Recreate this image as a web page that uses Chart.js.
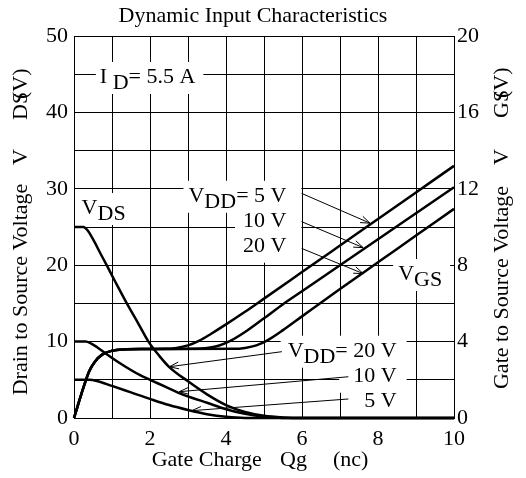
<!DOCTYPE html>
<html>
<head>
<meta charset="utf-8">
<script src="https://cdn.jsdelivr.net/npm/chart.js@4.4.0/dist/chart.umd.min.js"></script>
<style>
  body { margin: 0; background: #fff; }
  canvas { display: block; }
</style>
</head>
<body>
<canvas id="dynamic-input" width="526" height="478"></canvas>
<script>
// gate charge (nC) and drain-source voltage (V) for each VDD
let qVds20 = [0, 0.25, 0.35, 0.5, 0.7, 0.86, 1.1, 1.39, 1.7, 1.96, 2.25, 2.5, 3, 3.5, 4, 4.5, 5, 5.5, 6, 10];
let vds20 = [25, 25, 24.6, 23.4, 21.5, 20, 17.7, 15, 12.3, 10, 8.1, 6.7, 4.8, 3.1, 1.7, 0.8, 0.3, 0.08, 0, 0];
let qVds10 = [0, 0.3, 0.45, 0.6, 0.82, 1.2, 1.74, 2, 2.4, 2.75, 3.1, 3.5, 4, 4.5, 5, 5.5, 10];
let vds10 = [10, 10, 9.75, 9.3, 8.5, 7.2, 5.6, 5.0, 4.1, 3.3, 2.65, 2.0, 1.15, 0.55, 0.15, 0, 0];
let qVds5 = [0, 0.4, 0.6, 1, 1.5, 2, 2.5, 3, 3.5, 4, 4.5, 10];
let vds5 = [5, 5, 4.85, 4.2, 3.35, 2.5, 1.7, 1.05, 0.5, 0.15, 0, 0];

// gate-source voltage (V), right axis
let qVgs5 = [0, 0.1, 0.25, 0.4, 0.55, 0.75, 1, 1.3, 1.8, 2.4, 2.7, 3, 3.3, 3.6, 4, 4.5, 5, 6, 7, 8, 9, 10];
let vgs5 = [0, 0.65, 1.6, 2.45, 2.95, 3.33, 3.52, 3.59, 3.61, 3.62, 3.67, 3.8, 4.05, 4.4, 4.9, 5.56, 6.25, 7.64, 9.03, 10.42, 11.81, 13.2];
let qVgs10 = [0, 0.1, 0.25, 0.4, 0.55, 0.75, 1, 1.3, 1.8, 3.2, 3.5, 3.8, 4.1, 4.5, 5, 5.5, 6, 7, 8, 9, 10];
let vgs10 = [0, 0.65, 1.6, 2.45, 2.95, 3.33, 3.52, 3.59, 3.61, 3.62, 3.66, 3.78, 4.02, 4.5, 5.22, 5.96, 6.64, 8.0, 9.36, 10.72, 12.08];
let qVgs20 = [0, 0.1, 0.25, 0.4, 0.55, 0.75, 1, 1.3, 1.8, 4.2, 4.5, 4.8, 5.1, 5.5, 6, 7, 8, 9, 10];
let vgs20 = [0, 0.65, 1.6, 2.45, 2.95, 3.33, 3.52, 3.59, 3.61, 3.62, 3.67, 3.8, 4.08, 4.6, 5.32, 6.75, 8.15, 9.55, 10.95];

let xTicks = [0, 2, 4, 6, 8, 10];
let vdsTicks = [0, 10, 20, 30, 40, 50];
let vgsTicks = [0, 4, 8, 12, 16, 20];

// annotation text, placed in chart units (x: nC, y: left axis V)
let notes = [
  { x: 0.68, y: 43.85, align: 'left', pad: [4, 8], parts: [['I '], ['D', 1], ['= 5.5 A']] },
  { x: 0.2, y: 26.7, align: 'left', pad: [3, 3], parts: [['V'], ['DS', 1]] },
  { x: 5.59, y: 28.3, align: 'right', pad: [5, 15], parts: [['V'], ['DD', 1], ['= 5 V']] },
  { x: 5.59, y: 25.04, align: 'right', pad: [8, 15], parts: [['10 V']] },
  { x: 5.59, y: 21.77, align: 'right', pad: [8, 15], parts: [['20 V']] },
  { x: 8.53, y: 18.06, align: 'left', pad: [5, 8], parts: [['V'], ['GS', 1]] },
  { x: 8.49, y: 8.02, align: 'right', pad: [7, 10], parts: [['V'], ['DD', 1], ['= 20 V']] },
  { x: 8.49, y: 4.75, align: 'right', pad: [14, 10], parts: [['10 V']] },
  { x: 8.49, y: 1.48, align: 'right', pad: [8, 10], parts: [['5 V']] }
];
let arrows = [
  [5.99, 29.4, 7.79, 25.5],
  [5.99, 25.7, 7.61, 22.3],
  [5.99, 22.2, 7.61, 18.9],
  [5.47, 8.68, 2.51, 6.71],
  [7.22, 5.4, 2.77, 3.44],
  [7.22, 2.49, 3.1, 0.96]
];

let serif = "'Liberation Serif', 'Times New Roman', serif";
let font = '22px ' + serif;

let pts = (q, v) => q.map((x, i) => ({ x: x, y: v[i] }));
let curve = (q, v, axis) => ({
  data: pts(q, v),
  yAxisID: axis,
  borderColor: '#000',
  borderWidth: 2.5,
  pointRadius: 0,
  fill: false,
  cubicInterpolationMode: 'monotone',
  clip: 4
});

let rotText = (ctx, text, x, y, align) => {
  ctx.save();
  ctx.translate(x, y);
  ctx.rotate(-Math.PI / 2);
  ctx.textAlign = align;
  ctx.fillText(text, 0, 0);
  ctx.restore();
};

let textPlugin = {
  id: 'textPlugin',
  beforeDatasetsDraw: chart => {
    let ctx = chart.ctx;
    let sx = chart.scales.x, sy = chart.scales.y;
    ctx.save();
    ctx.font = font;
    ctx.textBaseline = 'alphabetic';
    ctx.textAlign = 'left';
    let placed = notes.map(n => {
      let w = n.parts.reduce((s, p) => s + ctx.measureText(p[0]).width, 0);
      let px = sx.getPixelForValue(n.x);
      let py = sy.getPixelForValue(n.y);
      let left = n.align === 'right' ? px - w : px;
      return { n: n, w: w, left: left, py: py };
    });
    ctx.fillStyle = '#fff';
    placed.forEach(p => ctx.fillRect(p.left - p.n.pad[0], p.py - 21, p.w + p.n.pad[0] + p.n.pad[1], 32));
    ctx.fillStyle = '#000';
    placed.forEach(p => {
      let cx = p.left;
      p.n.parts.forEach(part => {
        ctx.fillText(part[0], cx, p.py + (part[1] ? 6 : 0));
        cx += ctx.measureText(part[0]).width;
      });
    });

    ctx.strokeStyle = '#000';
    ctx.lineWidth = 1;
    arrows.forEach(a => {
      let x1 = sx.getPixelForValue(a[0]), y1 = sy.getPixelForValue(a[1]);
      let x2 = sx.getPixelForValue(a[2]), y2 = sy.getPixelForValue(a[3]);
      let ang = Math.atan2(y2 - y1, x2 - x1);
      ctx.beginPath();
      ctx.moveTo(x1, y1);
      ctx.lineTo(x2, y2);
      ctx.moveTo(x2 - 10 * Math.cos(ang - 0.35), y2 - 10 * Math.sin(ang - 0.35));
      ctx.lineTo(x2, y2);
      ctx.lineTo(x2 - 10 * Math.cos(ang + 0.35), y2 - 10 * Math.sin(ang + 0.35));
      ctx.stroke();
    });
    ctx.restore();
  },
  afterDraw: chart => {
    let ctx = chart.ctx;
    let area = chart.chartArea;
    ctx.save();
    ctx.font = font;
    ctx.fillStyle = '#000';
    ctx.textBaseline = 'alphabetic';
    ctx.textAlign = 'center';
    ctx.fillText('Dynamic Input Characteristics', 253, 21.5);

    ctx.textAlign = 'left';
    ctx.fillText('Gate Charge', 151.7, area.bottom + 47.5);
    ctx.fillText('Qg', 280, area.bottom + 47.5);
    ctx.fillText('(nc)', 333, area.bottom + 47.5);

    rotText(ctx, 'Drain to Source Voltage', 26.7, 289.5, 'center');
    rotText(ctx, 'V', 26.7, 157, 'center');
    rotText(ctx, 'DS', 26.7, 120, 'left');
    rotText(ctx, '(V)', 26.7, 99, 'left');

    rotText(ctx, 'Gate to Source Voltage', 508, 287.5, 'center');
    rotText(ctx, 'V', 508, 157, 'center');
    rotText(ctx, 'GS', 508, 118, 'left');
    rotText(ctx, '(V)', 508, 98, 'left');
    ctx.restore();
  }
};

Chart.defaults.font.family = serif;
Chart.defaults.font.size = 22;
Chart.defaults.color = '#000';

let ctx = document.getElementById('dynamic-input').getContext('2d');
let chart = new Chart(ctx, {
  type: 'line',
  data: {
    datasets: [
      curve(qVds20, vds20, 'y'),
      curve(qVds10, vds10, 'y'),
      curve(qVds5, vds5, 'y'),
      curve(qVgs5, vgs5, 'y2'),
      curve(qVgs10, vgs10, 'y2'),
      curve(qVgs20, vgs20, 'y2')
    ]
  },
  options: {
    responsive: false,
    animation: false,
    layout: { padding: { top: 36, left: 0, right: 0, bottom: 0 } },
    plugins: {
      legend: { display: false },
      tooltip: { enabled: false },
      title: { display: false }
    },
    scales: {
      x: {
        type: 'linear',
        min: 0,
        max: 10,
        afterFit: s => { s.height = 60; },
        grid: { color: '#000', lineWidth: 1, drawTicks: false },
        border: { color: '#000', width: 1 },
        ticks: {
          stepSize: 1,
          padding: 8,
          maxRotation: 0,
          autoSkip: false,
          callback: v => xTicks.includes(v) ? String(v) : ''
        }
      },
      y: {
        position: 'left',
        min: 0,
        max: 50,
        afterFit: s => { s.width = 74; },
        grid: { color: '#000', lineWidth: 1, drawTicks: false },
        border: { color: '#000', width: 1 },
        ticks: {
          stepSize: 5,
          padding: 6,
          autoSkip: false,
          callback: v => vdsTicks.includes(v) ? String(v) : ''
        }
      },
      y2: {
        position: 'right',
        min: 0,
        max: 20,
        afterFit: s => { s.width = 72; },
        grid: { drawOnChartArea: false, drawTicks: false },
        border: { color: '#000', width: 1 },
        ticks: {
          stepSize: 4,
          padding: 3,
          autoSkip: false,
          callback: v => vgsTicks.includes(v) ? String(v) : ''
        }
      }
    }
  },
  plugins: [textPlugin]
});
</script>
</body>
</html>
